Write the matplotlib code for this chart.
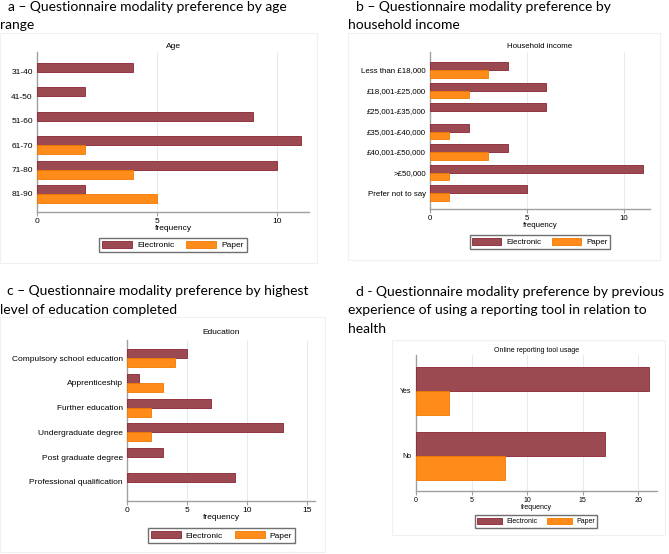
import matplotlib
matplotlib.use("Agg")
import matplotlib.pyplot as plt
from matplotlib.patches import Patch, Rectangle

W, H = 669, 554

# data
age_cats = ["31-40", "41-50", "51-60", "61-70", "71-80", "81-90"]
age_elec = [4, 2, 9, 11, 10, 2]
age_paper = [0, 0, 0, 2, 4, 5]

inc_cats = ["Less than £18,000", "£18,001-£25,000", "£25,001-£35,000",
            "£35,001-£40,000", "£40,001-£50,000", ">£50,000", "Prefer not to say"]
inc_elec = [4, 6, 6, 2, 4, 11, 5]
inc_paper = [3, 2, 0, 1, 3, 1, 1]

edu_cats = ["Compulsory school education", "Apprenticeship", "Further education",
            "Undergraduate degree", "Post graduate degree", "Professional qualification"]
edu_elec = [5, 1, 7, 13, 3, 9]
edu_paper = [4, 3, 2, 2, 0, 0]

use_cats = ["Yes", "No"]
use_elec = [21, 17]
use_paper = [3, 8]

ELEC = "#9c4a52"
ELEC_EDGE = "#8a2432"
PAPER = "#ff8c1a"
PAPER_EDGE = "#f07a00"
AXCOL = "#a0a0a0"
GRID = "#e3edf1"

SANS = "Liberation Sans"
TITLE_FONT = "Lato"

fig = plt.figure(figsize=(W / 100, H / 100), dpi=100)


def fx(x):
    return x / W


def fy(y):
    return 1 - y / H


def region(l, t, r, b):
    fig.patches.append(Rectangle((fx(l), fy(b)), (r - l) / W, (b - t) / H,
                                 transform=fig.transFigure, facecolor="white",
                                 edgecolor="#eef1f2", lw=0.8, zorder=-10))


def panel(box, cats, elec, paper, xmax, xticks, margins, bh, sub, sub_y,
          leg_xy, fs, legfs):
    l, t, r, b = box
    ax = fig.add_axes([fx(l), fy(b), (r - l) / W, (b - t) / H])
    n = len(cats)
    pos = list(range(n))
    # no outline on empty bars, otherwise a stub shows at zero
    ax.barh([p - bh / 2 for p in pos], elec, height=bh, color=ELEC,
            edgecolor=ELEC_EDGE, lw=[0.6 if v else 0 for v in elec], zorder=3)
    ax.barh([p + bh / 2 for p in pos], paper, height=bh, color=PAPER,
            edgecolor=PAPER_EDGE, lw=[0.6 if v else 0 for v in paper], zorder=3)
    ax.set_xlim(0, xmax)
    ax.set_ylim(n - 1 + margins[1], -margins[0])
    ax.set_xticks(xticks)
    ax.set_xticklabels([str(v) for v in xticks], fontsize=fs, family=SANS)
    ax.set_yticks(pos)
    ax.set_yticklabels(cats, fontsize=fs, family=SANS)
    ax.tick_params(axis="y", length=0, pad=3)
    ax.tick_params(axis="x", length=3, width=0.8, color=AXCOL, pad=1.5)
    for s in ["top", "right"]:
        ax.spines[s].set_visible(False)
    for s in ["left", "bottom"]:
        ax.spines[s].set_color(AXCOL)
        ax.spines[s].set_linewidth(1.0)
    for v in xticks[1:]:
        ax.axvline(v, color=GRID, lw=0.8, zorder=1)
    ax.patch.set_alpha(0)
    ax.set_xlabel("frequency", fontsize=fs, family=SANS, labelpad=0)
    fig.text(fx((l + r) / 2), fy(sub_y), sub, ha="center", va="center",
             fontsize=fs, family=SANS)
    handles = [Patch(facecolor=ELEC, edgecolor=ELEC_EDGE, lw=0.6),
               Patch(facecolor=PAPER, edgecolor=PAPER_EDGE, lw=0.6)]
    fig.legend(handles, ["Electronic", "Paper"], loc="center",
               bbox_to_anchor=(fx(leg_xy[0]), fy(leg_xy[1])), ncol=2,
               prop={"family": SANS, "size": legfs}, frameon=True,
               fancybox=False, edgecolor="#707070", framealpha=1,
               handlelength=3.6, handleheight=0.9, handletextpad=0.6,
               columnspacing=1.4, borderpad=0.35, borderaxespad=0)
    return ax


def title(lines, size=10):
    for x, y, s in lines:
        fig.text(fx(x), fy(y), s, ha="left", va="center", fontsize=size,
                 family=TITLE_FONT)


region(0, 33, 317, 263)
region(348, 33, 660, 260)
region(0, 317, 325, 552)
region(392, 340, 665, 535)

title([(8, 7, "a – Questionnaire modality preference by age"),
       (0, 25, "range")])
title([(356, 7, "b – Questionnaire modality preference by"),
       (348, 25, "household income")])
title([(7, 291, "c – Questionnaire modality preference by highest"),
       (0, 310, "level of education completed")])
title([(356, 292, "d - Questionnaire modality preference by previous"),
       (348, 310, "experience of using a reporting tool in relation to"),
       (348, 329, "health")])

panel((37, 52, 309, 212), age_cats, age_elec, age_paper, 11.33, [0, 5, 10],
      (0.82, 0.74), 0.37, "Age", 47, (173, 245), 6, 6)
panel((430, 52, 650, 209), inc_cats, inc_elec, inc_paper, 11.34, [0, 5, 10],
      (0.88, 0.78), 0.38, "Household income", 47, (540, 242), 5.7, 5.8)
panel((127, 340, 315, 501), edu_cats, edu_elec, edu_paper, 15.67, [0, 5, 10, 15],
      (0.73, 0.77), 0.36, "Education", 332, (221.5, 535.5), 6, 6)
panel((416, 355, 657, 491), use_cats, use_elec, use_paper, 21.7, [0, 5, 10, 15, 20],
      (0.55, 0.54), 0.37, "Online reporting tool usage", 350, (536, 521.5), 5, 5)

fig.savefig("out.png", dpi=100)
